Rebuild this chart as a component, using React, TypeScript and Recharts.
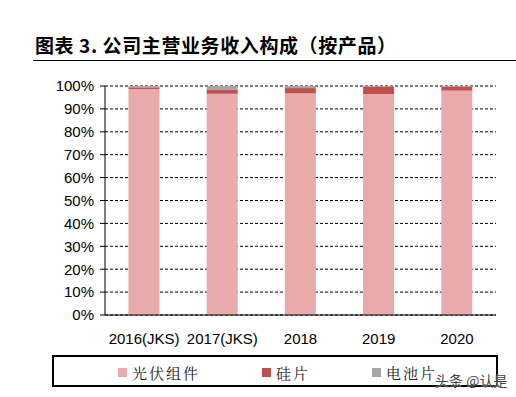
import React from 'react';
import { BarChart, Bar, XAxis, YAxis, CartesianGrid } from 'recharts';

const years = ['2016(JKS)', '2017(JKS)', '2018', '2019', '2020'];
const modules = [98.7, 96.6, 96.8, 96.5, 98.0];
const wafers = [0.7, 1.7, 2.3, 3.2, 1.6];
const cells = [0.6, 1.7, 0.9, 0.3, 0.4];
const yTicks = [0, 10, 20, 30, 40, 50, 60, 70, 80, 90, 100];

const seriesNames = ['光伏组件', '硅片', '电池片'];
const seriesColors = ['#E8AAAA', '#C0504D', '#A6A6A6'];

const data = years.map((year, i) => ({
  year,
  modules: modules[i],
  wafers: wafers[i],
  cells: cells[i],
}));

const legendX = [64, 208, 318];

function LegendBox() {
  return (
    <div
      style={{
        position: 'absolute',
        left: 52,
        top: 355,
        width: 442,
        height: 28,
        border: '2px solid #000',
        background: '#fff',
        fontFamily: '"Noto Serif CJK SC", "Noto Sans CJK SC", serif',
        fontSize: 15,
        color: '#222',
      }}
    >
      {seriesNames.map((name, i) => (
        <div
          key={name}
          style={{ position: 'absolute', left: legendX[i], top: 5, display: 'flex', alignItems: 'center' }}
        >
          <span style={{ width: 9, height: 9, background: seriesColors[i], marginRight: 5 }} />
          <span style={{ letterSpacing: 2 }}>{name}</span>
        </div>
      ))}
    </div>
  );
}

export default function App() {
  return (
    <div style={{ position: 'absolute', left: 0, top: 0, width: 516, height: 397, background: '#fff', overflow: 'hidden' }}>
      <div
        style={{
          position: 'absolute',
          left: 35,
          top: 31,
          fontFamily: '"Noto Sans CJK SC", sans-serif',
          fontWeight: 700,
          fontSize: 19,
          letterSpacing: 0.6,
          color: '#000',
          whiteSpace: 'nowrap',
        }}
      >
        图表 3. 公司主营业务收入构成（按产品）
      </div>
      <div style={{ position: 'absolute', left: 33, top: 60, width: 483, height: 1, background: '#000' }} />
      <div style={{ position: 'absolute', left: 0, top: 0 }}>
        <BarChart
          width={516}
          height={397}
          data={data}
          margin={{ top: 86, right: 20, bottom: 52, left: 0 }}
          barCategoryGap="30%"
        >
          <CartesianGrid vertical={false} stroke="#000" strokeDasharray="3 2" />
          <XAxis
            dataKey="year"
            height={30}
            axisLine={{ stroke: '#000' }}
            tickLine={false}
            tick={{ fill: '#000', fontSize: 15, fontFamily: 'Liberation Sans, Arial, sans-serif' }}
            tickMargin={12}
          />
          <YAxis
            width={105}
            domain={[0, 100]}
            ticks={yTicks}
            interval={0}
            tickFormatter={(v: number) => `${v}%`}
            axisLine={{ stroke: '#000' }}
            tickLine={{ stroke: '#000' }}
            tickSize={5}
            tick={{ fill: '#000', fontSize: 15, fontFamily: 'Liberation Sans, Arial, sans-serif' }}
            tickMargin={6}
          />
          <Bar dataKey="modules" name={seriesNames[0]} stackId="a" fill={seriesColors[0]} isAnimationActive={false} />
          <Bar dataKey="wafers" name={seriesNames[1]} stackId="a" fill={seriesColors[1]} isAnimationActive={false} />
          <Bar dataKey="cells" name={seriesNames[2]} stackId="a" fill={seriesColors[2]} isAnimationActive={false} />
        </BarChart>
      </div>
      <LegendBox />
      <div
        style={{
          position: 'absolute',
          left: 435,
          top: 370,
          fontFamily: '"Noto Sans CJK SC", sans-serif',
          fontSize: 14,
          color: '#444',
          whiteSpace: 'nowrap',
          textShadow: '0 0 2px #fff',
        }}
      >
        头条 @认是
      </div>
    </div>
  );
}
